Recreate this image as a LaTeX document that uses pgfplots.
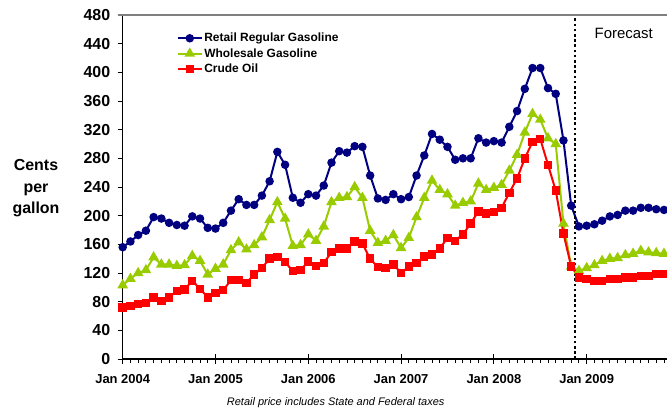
\documentclass[border=0pt]{standalone}
\usepackage{fontspec}
\setmainfont{Liberation Sans}
\usepackage{pgfplots}
\pgfplotsset{compat=1.18}
\usepackage{pgfplotstable}

\definecolor{retailblue}{HTML}{000080}
\definecolor{wholegreen}{HTML}{99CC00}
\definecolor{crudered}{HTML}{FF0000}

% month index 0 = Jan 2004, cents per gallon
\pgfplotstableread{
m  retail wholesale crude
0  156 103 72
1  164 112 74
2  173 120 77
3  179 124 78
4  198 142 86
5  196 132 81
6  190 132 86
7  187 130 95
8  186 131 97
9  199 144 109
10 196 137 98
11 183 118 86
12 182 126 92
13 190 132 96
14 207 152 110
15 223 163 110
16 215 153 106
17 215 159 118
18 228 170 127
19 248 194 140
20 289 219 142
21 271 196 135
22 225 158 123
23 218 159 124
24 230 174 136
25 228 165 130
26 242 185 134
27 274 219 149
28 290 225 154
29 288 226 154
30 297 240 164
31 296 225 161
32 256 179 140
33 224 162 128
34 222 165 127
35 230 173 132
36 223 155 120
37 226 169 129
38 256 198 134
39 284 225 143
40 314 249 146
41 306 236 154
42 296 230 169
43 278 214 165
44 280 218 174
45 280 220 189
46 308 245 206
47 302 236 203
48 304 239 205
49 302 243 211
50 324 263 232
51 346 285 252
52 377 316 280
53 406 342 303
54 406 334 307
55 378 308 271
56 370 300 235
57 305 189 175
58 214 129 129
59 185 123 114
60 186 127 112
61 188 131 109
62 193 137 109
63 199 140 112
64 201 141 112
65 207 145 114
66 207 147 114
67 211 151 116
68 211 149 116
69 209 148 119
70 208 147 119
}\prices

\begin{document}
\begin{tikzpicture}
\useasboundingbox (-122.7bp,-50bp) rectangle (544.3bp,359bp);
\begin{axis}[
  scale only axis,
  width=544.3bp, height=344bp,
  xmin=0, xmax=70.39, ymin=0, ymax=480,
  clip=false,
  axis x line*=bottom, axis y line*=left,
  axis line style={black, line width=1.4bp},
  xtick={0,12,24,36,48,60},
  xticklabels={Jan 2004,Jan 2005,Jan 2006,Jan 2007,Jan 2008,Jan 2009},
  minor xtick={1,...,70},
  ytick={0,40,...,480},
  tick align=outside,
  major tick length=5bp,
  minor tick length=3.5bp,
  tick style={black, line width=0.9bp},
  extra x ticks={0,12,24,36,48,60},
  extra x tick labels={},
  extra x tick style={tick align=inside, major tick length=5bp},
  /pgf/number format/assume math mode=true,
  yticklabel style={font=\bfseries\fontsize{16}{16}\selectfont, xshift=-4bp},
  xticklabel style={font=\bfseries\fontsize{13}{13}\selectfont, yshift=-7bp},
  legend cell align=left,
  legend style={at={(0.099,0.952)}, anchor=north west, draw=none, fill=none,
                inner sep=0pt, row sep=2.2bp,
                font=\bfseries\fontsize{12}{12}\selectfont,
                nodes={inner sep=1.5bp}},
  legend image code/.code={\draw[mark repeat=2,mark phase=2]
      plot coordinates {(0bp,0bp) (12bp,0bp) (24bp,0bp)};},
]
\addplot[retailblue, line width=2bp, mark=*, mark size=3.2bp,
         mark options={fill=retailblue}] table[x=m, y=retail] {\prices};
\addlegendentry{Retail Regular Gasoline}
\addplot[wholegreen, line width=2bp, mark=triangle*, mark size=4.2bp,
         mark options={fill=wholegreen}] table[x=m, y=wholesale] {\prices};
\addlegendentry{Wholesale Gasoline}
\addplot[crudered, line width=2bp, mark=square*, mark size=3.2bp,
         mark options={fill=crudered}] table[x=m, y=crude] {\prices};
\addlegendentry{Crude Oil}
\draw[black, line width=2.2bp, dash pattern=on 2.6bp off 2.6bp]
  (axis cs:58.5,0) -- (axis cs:58.5,480);
\draw[gray, line width=2bp] ([xshift=-5bp]axis cs:0,480) -- (axis cs:70.39,480);
\end{axis}
\node[align=center, font=\bfseries\fontsize{16}{21.5}\selectfont]
  at (-86.7bp,170.5bp) {Cents\\per\\gallon};
\node[font=\fontsize{15}{15}\selectfont] at (501bp,325.7bp) {Forecast};
\node[font=\itshape\fontsize{11}{11}\selectfont] at (213bp,-44bp)
  {Retail price includes State and Federal taxes};
\end{tikzpicture}
\end{document}
